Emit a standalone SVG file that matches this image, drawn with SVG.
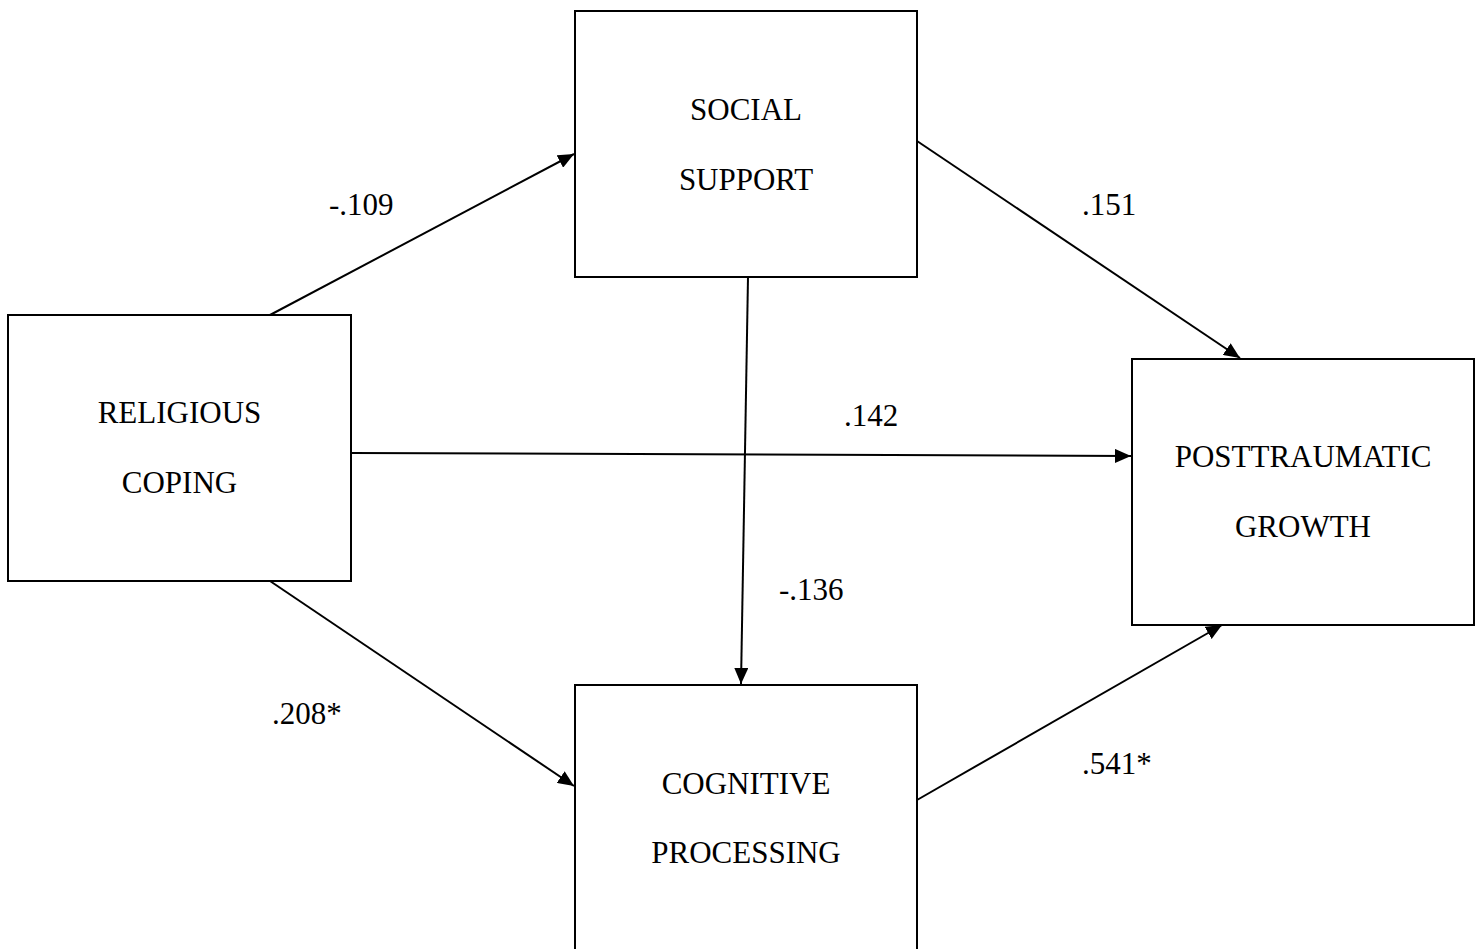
<svg xmlns="http://www.w3.org/2000/svg" width="1484" height="949" viewBox="0 0 1484 949">
<style>
.box{fill:#fff;stroke:#000;stroke-width:2}
.lbl{font-family:"Liberation Serif","Times New Roman",serif;font-size:31px;fill:#000}
.mid{text-anchor:middle}
.edge{stroke:#000;stroke-width:2;fill:none;marker-end:url(#ah)}
</style>
<defs>
<marker id="ah" viewBox="0 0 16 14" refX="16" refY="7" markerWidth="16" markerHeight="14" markerUnits="userSpaceOnUse" orient="auto">
<path d="M0,0 L16,7 L0,14 Z" fill="#000"/>
</marker>
</defs>
<rect width="1484" height="949" fill="#fff"/>
<g id="connectors">
<line class="edge" x1="270" y1="315" x2="574" y2="154"/>
<line class="edge" x1="917" y1="141" x2="1240" y2="358"/>
<line class="edge" x1="351" y1="453" x2="1131" y2="456"/>
<line class="edge" x1="748" y1="277" x2="741" y2="684"/>
<line class="edge" x1="270" y1="581" x2="574" y2="786"/>
<line class="edge" x1="917" y1="800" x2="1222" y2="625"/>
</g>
<g id="node-social-support">
<rect class="box" x="575" y="11" width="342" height="266"/>
<text class="lbl mid" x="746" y="120">SOCIAL</text>
<text class="lbl mid" x="746" y="190">SUPPORT</text>
</g>
<g id="node-religious-coping">
<rect class="box" x="8" y="315" width="343" height="266"/>
<text class="lbl mid" x="179.5" y="423">RELIGIOUS</text>
<text class="lbl mid" x="179.5" y="493">COPING</text>
</g>
<g id="node-posttraumatic-growth">
<rect class="box" x="1132" y="359" width="342" height="266"/>
<text class="lbl mid" x="1303" y="467">POSTTRAUMATIC</text>
<text class="lbl mid" x="1303" y="537">GROWTH</text>
</g>
<g id="node-cognitive-processing">
<rect class="box" x="575" y="685" width="342" height="270"/>
<text class="lbl mid" x="746" y="794">COGNITIVE</text>
<text class="lbl mid" x="746" y="863">PROCESSING</text>
</g>
<g id="edge-labels">
<text class="lbl" x="329" y="215">-.109</text>
<text class="lbl" x="1082" y="215">.151</text>
<text class="lbl" x="844" y="426">.142</text>
<text class="lbl" x="779" y="600">-.136</text>
<text class="lbl" x="272" y="724">.208*</text>
<text class="lbl" x="1082" y="774">.541*</text>
</g>
</svg>
